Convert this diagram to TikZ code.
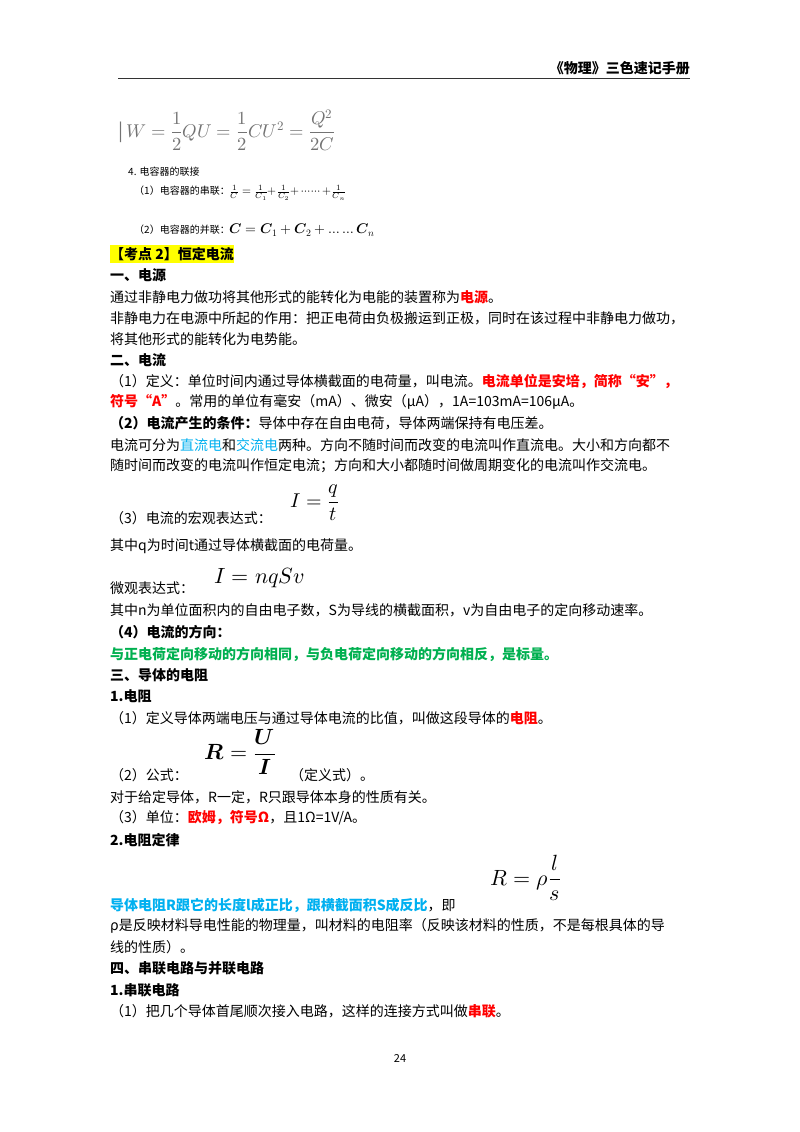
\documentclass[tikz,border=0pt]{standalone}
\usepackage{amsmath}
\usepackage{unicode-math}
\setmainfont{Noto Sans CJK SC}
\setmathfont{Latin Modern Math}
\definecolor{kred}{HTML}{FF0000}
\definecolor{kblue}{HTML}{00B0F0}
\definecolor{kgreen}{HTML}{00B050}
\definecolor{kyel}{HTML}{FFFF00}
\begin{document}
\begin{tikzpicture}[x=1pt,y=-1pt,
  t/.style={anchor=west,inner sep=0pt,font=\fontsize{14}{16}\selectfont},
  h/.style={t,font=\fontsize{14}{16}\selectfont\bfseries},
  sm/.style={anchor=west,inner sep=0pt,font=\fontsize{10}{12}\selectfont},
  fm/.style={anchor=west,inner sep=0pt}]
\useasboundingbox[fill=white] (0,0) rectangle (800,1132);
\node[anchor=east,inner sep=0pt,font=\fontsize{14}{16}\selectfont\bfseries] (hd) at (690,68) {《物理》三色速记手册};
\draw[line width=0.8pt,black!80] (118,78) -- (690,78);
\node[fm,text=black!55,font=\fontsize{18.5}{22}\selectfont] (w) at (118,130) {$\mathit{|}\,W=\dfrac{1}{2}QU=\dfrac{1}{2}CU^2=\dfrac{Q^2}{2C}$};
\node[sm] (s4) at (128,172) {4. 电容器的联接};
\node[sm] (s1) at (134,193) {（1）电容器的串联：\fontsize{11.5}{13}\selectfont$\frac{1}{C}=\frac{1}{C_1}{+}\frac{1}{C_2}{+}\cdots\cdots{+}\frac{1}{C_n}$};
\node[sm] (s2) at (134,230) {（2）电容器的并联：\fontsize{14}{16}\selectfont$\symbfit{C}=\symbfit{C}_1+\symbfit{C}_2+\ldots\ldots \symbfit{C}_n$};
\node[h,fill=kyel,inner ysep=2pt] (k2) at (110,254) {【考点 2】恒定电流};
\node[h] (a1) at (110,275) {一、电源};
\node[t] (l1) at (110,297) {通过非静电力做功将其他形式的能转化为电能的装置称为{\color{kred}\bfseries 电源}。};
\node[t] (l2) at (110,318) {非静电力在电源中所起的作用：把正电荷由负极搬运到正极，同时在该过程中非静电力做功，};
\node[t] (l3) at (110,339) {将其他形式的能转化为电势能。};
\node[h] (a2) at (110,360) {二、电流};
\node[t] (l4) at (110,381) {（1）定义：单位时间内通过导体横截面的电荷量，叫电流。{\color{kred}\bfseries 电流单位是安培，简称“安”，}};
\node[t] (l5) at (110,402) {{\color{kred}\bfseries 符号“A”}。常用的单位有毫安（mA）、微安（μA），1A=103mA=106μA。};
\node[t] (l6) at (110,423) {{\bfseries（2）电流产生的条件：}导体中存在自由电荷，导体两端保持有电压差。};
\node[t] (l7) at (110,445) {电流可分为{\color{kblue}直流电}和{\color{kblue}交流电}两种。方向不随时间而改变的电流叫作直流电。大小和方向都不};
\node[t] (l8) at (110,466) {随时间而改变的电流叫作恒定电流；方向和大小都随时间做周期变化的电流叫作交流电。};
\node[t] (l9) at (110,518) {（3）电流的宏观表达式：};
\node[fm,font=\fontsize{20}{24}\selectfont] (f1) at (290,503) {$I=\dfrac{q}{t}$};
\node[t] (l10) at (110,546) {其中q为时间t通过导体横截面的电荷量。};
\node[t] (l11) at (110,588) {微观表达式：};
\node[fm,font=\fontsize{22}{26}\selectfont] (f2) at (214,578) {$I=nqSv$};
\node[t] (l12) at (110,610) {其中n为单位面积内的自由电子数，S为导线的横截面积，v为自由电子的定向移动速率。};
\node[h] (l13) at (110,632) {（4）电流的方向：};
\node[h,text=kgreen] (l14) at (110,654) {与正电荷定向移动的方向相同，与负电荷定向移动的方向相反，是标量。};
\node[h] (a3) at (110,675) {三、导体的电阻};
\node[h] (b1) at (110,696) {1.电阻};
\node[t] (l15) at (110,718) {（1）定义导体两端电压与通过导体电流的比值，叫做这段导体的{\color{kred}\bfseries 电阻}。};
\node[t] (l16) at (110,775) {（2）公式：};
\node[fm,font=\fontsize{22}{26}\selectfont] (f3) at (204,752) {$\symbfit{R}=\dfrac{\symbfit{U}}{\symbfit{I}}$};
\node[t] (l16b) at (290,775) {（定义式）。};
\node[t] (l17) at (110,797) {对于给定导体，R一定，R只跟导体本身的性质有关。};
\node[t] (l18) at (110,818) {（3）单位：{\color{kred}\bfseries 欧姆，符号Ω}，且1Ω=1V/A。};
\node[h] (b2) at (110,840) {2.电阻定律};
\node[fm,font=\fontsize{22}{26}\selectfont] (f4) at (490,878) {$R=\rho\dfrac{l}{s}$};
\node[t] (l19) at (110,905) {{\color{kblue}\bfseries 导体电阻R跟它的长度l成正比，跟横截面积S成反比}，即};
\node[t] (l20) at (110,926) {ρ是反映材料导电性能的物理量，叫材料的电阻率（反映该材料的性质，不是每根具体的导};
\node[t] (l21) at (110,947) {线的性质）。};
\node[h] (a4) at (110,968) {四、串联电路与并联电路};
\node[h] (b3) at (110,990) {1.串联电路};
\node[t] (l22) at (110,1011) {（1）把几个导体首尾顺次接入电路，这样的连接方式叫做{\color{kred}\bfseries 串联}。};
\node[inner sep=0pt,font=\fontsize{11}{13}\selectfont] (pg) at (400,1058) {24};
\end{tikzpicture}
\end{document}
